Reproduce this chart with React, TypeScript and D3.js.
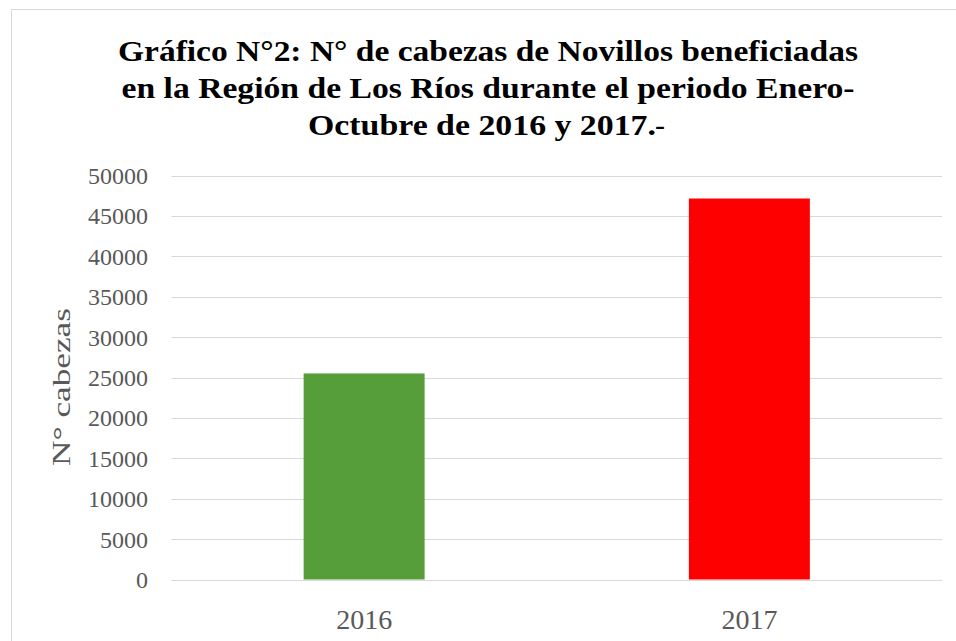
import React from "react";
import * as d3 from "d3";

const categories = ["2016", "2017"];
const values = [25500, 47150];
const barColors = ["#559E3A", "#FF0000"];
const yTicks = [0, 5000, 10000, 15000, 20000, 25000, 30000, 35000, 40000, 45000, 50000];
const titleLines = [
  "Gráfico N°2: N° de cabezas de Novillos beneficiadas",
  "en la Región de Los Ríos durante el periodo Enero-",
  "Octubre de 2016 y 2017.",
];
const titleWidths = [740, 733, 348];
const yAxisTitle = "N° cabezas";

const W = 956;
const H = 641;
const FONT = "'Liberation Serif', 'Times New Roman', serif";

export default function App() {
  const y = d3.scaleLinear().domain([0, 50000]).range([579.5, 175.5]);
  const x = d3
    .scaleBand<string>()
    .domain(categories)
    .range([171.5, 942])
    .paddingInner(0.686)
    .paddingOuter(0.343);

  const cx = 488;
  const baselines = [61, 98, 135];
  const line3Center = cx - 6;

  return (
    <svg
      width={W}
      height={H}
      style={{ position: "absolute", left: 0, top: 0, background: "#fff" }}
    >
      <rect x={0} y={0} width={W} height={H} fill="#fff" />
      <rect x={11.5} y={9.5} width={970} height={660} fill="none" stroke="#d9d9d9" strokeWidth={1} />

      {titleLines.map((t, i) => (
        <text
          key={i}
          x={i === 2 ? line3Center : cx}
          y={baselines[i]}
          textAnchor="middle"
          fontFamily={FONT}
          fontWeight="bold"
          fontSize={30}
          fill="#000"
          textLength={titleWidths[i]}
          lengthAdjust="spacingAndGlyphs"
        >
          {t}
        </text>
      ))}
      <text
        x={line3Center + titleWidths[2] / 2 - 1}
        y={baselines[2]}
        fontFamily={FONT}
        fontSize={30}
        fill="#000"
      >
        -
      </text>

      {yTicks.map((t) => (
        <g key={t}>
          <line
            x1={171.5}
            x2={942}
            y1={Math.round(y(t)) + 0.5}
            y2={Math.round(y(t)) + 0.5}
            stroke="#d9d9d9"
            strokeWidth={1}
          />
          <text
            x={148}
            y={y(t)}
            dy="0.35em"
            textAnchor="end"
            fontFamily={FONT}
            fontSize={24}
            fill="#595959"
          >
            {t}
          </text>
        </g>
      ))}

      {categories.map((c, i) => (
        <rect
          key={c}
          x={x(c)}
          y={y(values[i])}
          width={x.bandwidth()}
          height={y(0) - y(values[i])}
          fill={barColors[i]}
        />
      ))}

      {categories.map((c) => (
        <text
          key={c}
          x={(x(c) as number) + x.bandwidth() / 2}
          y={629}
          textAnchor="middle"
          fontFamily={FONT}
          fontSize={28}
          fill="#595959"
        >
          {c}
        </text>
      ))}

      <text
        transform={`translate(70,387) rotate(-90)`}
        textAnchor="middle"
        fontFamily={FONT}
        fontSize={25}
        fill="#595959"
        textLength={158}
        lengthAdjust="spacingAndGlyphs"
      >
        {yAxisTitle}
      </text>
    </svg>
  );
}
